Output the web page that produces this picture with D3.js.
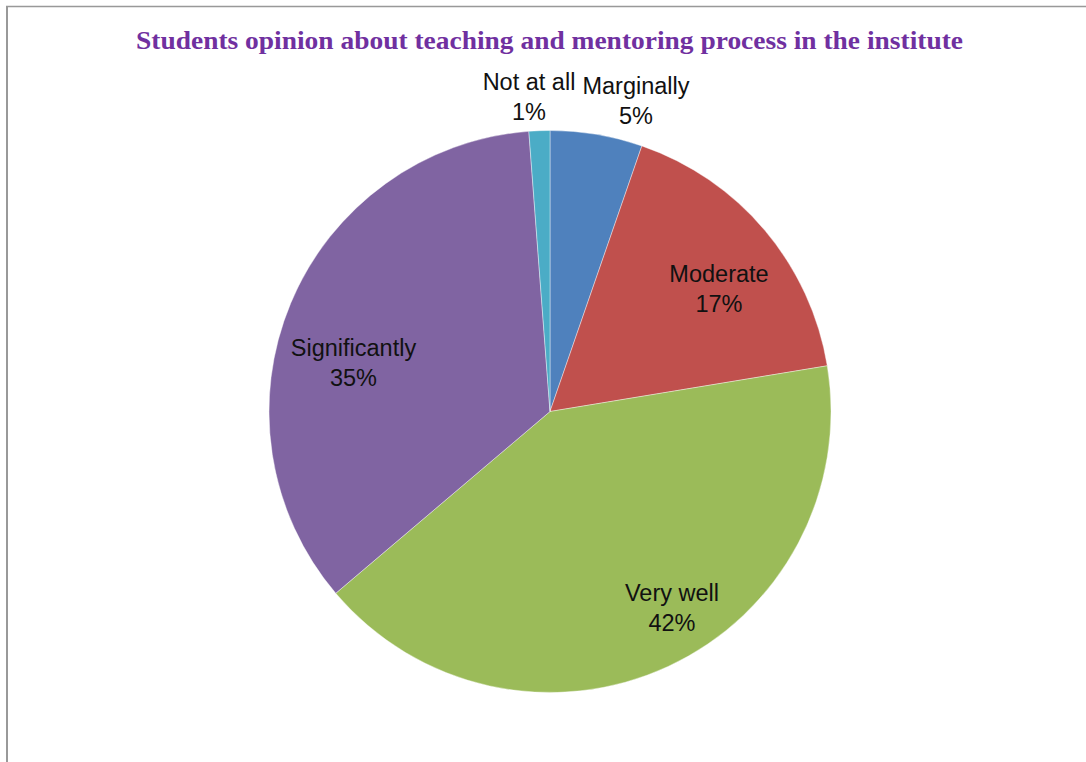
<!DOCTYPE html>
<html>
<head>
<meta charset="utf-8">
<script src="https://cdn.jsdelivr.net/npm/d3@7"></script>
<style>
  html, body { margin: 0; padding: 0; background: #fff; }
  svg { display: block; }
</style>
</head>
<body>
<svg id="chart" width="1086" height="762"></svg>
<script>
const categories = ["Marginally", "Moderate", "Very well", "Significantly", "Not at all"];
const values = [5.3, 17.1, 41.4, 35.0, 1.2];
const percentLabels = ["5%", "17%", "42%", "35%", "1%"];
const colors = ["#4F81BD", "#C0504D", "#9BBB59", "#8064A2", "#4BACC6"];
const titleText = "Students opinion about teaching and mentoring process in the institute";

const svg = d3.select("#chart");
const W = 1086, H = 762;
const cx = 550, cy = 411.5, R = 281;

// frame (top and left edges visible)
svg.append("line").attr("x1", 6).attr("y1", 6.5).attr("x2", W).attr("y2", 6.5)
  .attr("stroke", "#999").attr("stroke-width", 1.5);
svg.append("line").attr("x1", 7).attr("y1", 6).attr("x2", 7).attr("y2", H)
  .attr("stroke", "#999").attr("stroke-width", 2);

// title
svg.append("text")
  .attr("x", 549.5).attr("y", 49)
  .attr("text-anchor", "middle")
  .attr("font-family", "'Liberation Serif', 'Times New Roman', serif")
  .attr("font-weight", "bold")
  .attr("font-size", 25)
  .attr("textLength", 827)
  .attr("lengthAdjust", "spacingAndGlyphs")
  .attr("fill", "#7030A0")
  .text(titleText);

const data = categories.map((c, i) => ({ name: c, value: values[i], label: percentLabels[i], color: colors[i] }));

const pie = d3.pie().sort(null).value(d => d.value);
const arc = d3.arc().innerRadius(0).outerRadius(R);
const arcs = pie(data);

const g = svg.append("g").attr("transform", `translate(${cx},${cy})`);
g.selectAll("path").data(arcs).join("path")
  .attr("d", arc)
  .attr("fill", d => d.data.color)
  .attr("stroke", "#fff")
  .attr("stroke-width", 0.4);

// label positions (centre x, first baseline y) relative to the slice geometry
const labelPos = {
  "Marginally": [636, 94],
  "Moderate": [719, 282],
  "Very well": [672, 601],
  "Significantly": [353.5, 356],
  "Not at all": [529, 90]
};

const lg = svg.append("g")
  .attr("font-family", "'Liberation Sans', Arial, sans-serif")
  .attr("font-size", 23.5)
  .attr("fill", "#111")
  .attr("text-anchor", "middle");

arcs.forEach(a => {
  const p = labelPos[a.data.name];
  const t = lg.append("text").attr("x", p[0]).attr("y", p[1]);
  t.append("tspan").attr("x", p[0]).attr("dy", 0).text(a.data.name);
  t.append("tspan").attr("x", p[0]).attr("dy", 30).text(a.data.label);
});
</script>
</body>
</html>
